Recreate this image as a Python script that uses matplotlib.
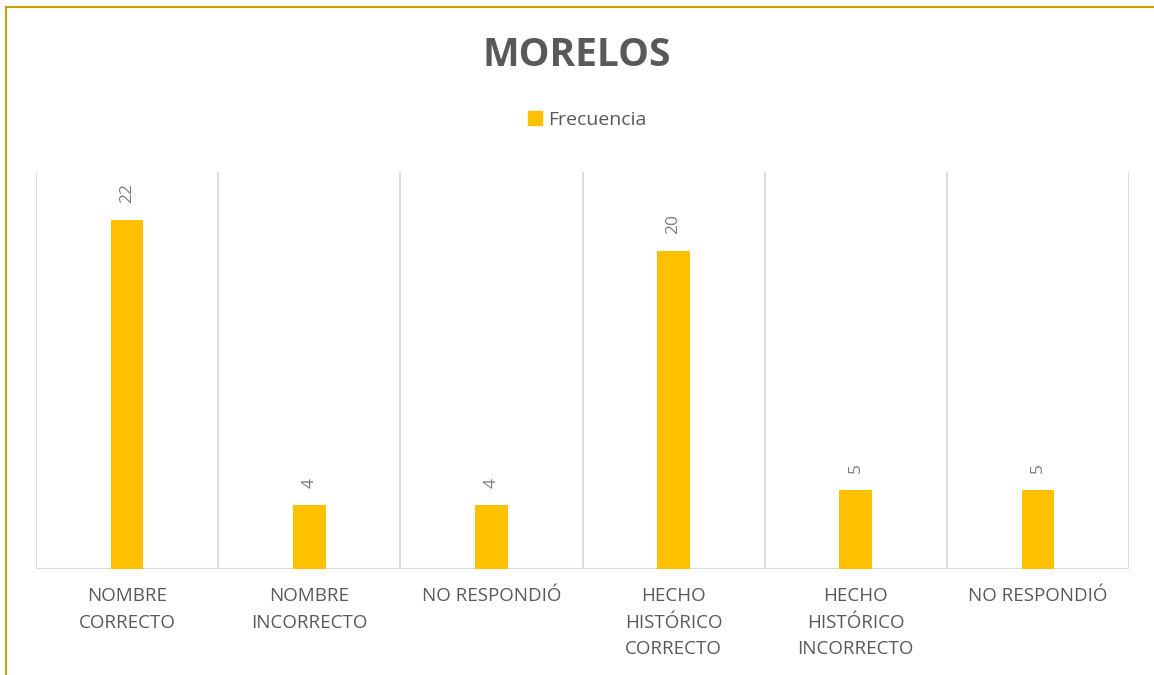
import matplotlib
matplotlib.use("Agg")
import matplotlib.pyplot as plt
from matplotlib.patches import Rectangle, Patch

categories = ["NOMBRE\nCORRECTO", "NOMBRE\nINCORRECTO", "NO RESPONDIÓ",
              "HECHO\nHISTÓRICO\nCORRECTO", "HECHO\nHISTÓRICO\nINCORRECTO", "NO RESPONDIÓ"]
frecuencia = [22, 4, 4, 20, 5, 5]
series_name = "Frecuencia"
title = "MORELOS"

BAR = "#FFC000"
GRID = "#D9D9D9"
TXT = "#595959"

plt.rcParams['font.family'] = ['Open Sans', 'DejaVu Sans']

fig = plt.figure(figsize=(11.54, 6.75), dpi=100)
ax = fig.add_axes([36/1154, 1-569/675, (1129-36)/1154, (569-172)/675])

x = list(range(len(categories)))
ax.bar(x, frecuencia, width=0.18, color=BAR, zorder=3)
ax.set_xlim(-0.5, len(categories)-0.5)
ax.set_ylim(0, 25)

for i, v in enumerate(frecuencia):
    ax.annotate(str(v), (i, v), xytext=(0, 17), textcoords="offset pixels",
                rotation=90, ha="center", va="bottom", fontsize=12.5, color="#7F7F7F")

# vertical gridlines at category boundaries
for b in [i - 0.5 for i in range(len(categories)+1)]:
    ax.axvline(b, color=GRID, lw=1.3, zorder=1)
ax.axhline(0, color=GRID, lw=1.5, zorder=2)

for s in ax.spines.values():
    s.set_visible(False)
ax.set_yticks([])
ax.set_xticks(x)
ax.set_xticklabels(categories, fontsize=13.5, color=TXT, linespacing=1.62)
ax.tick_params(axis="x", length=0, pad=13)

fig.text(0.5, 1-55/675, title, ha="center", va="center", fontsize=28,
         fontweight="bold", color=TXT)
fig.legend(handles=[Patch(color=BAR, label=series_name)], loc="center",
           bbox_to_anchor=(587/1154, 1-120/675), frameon=False, fontsize=14,
           handlelength=0.75, handleheight=0.75, handletextpad=0.3, labelcolor=TXT)

# outer border (only top and left visible in the reference crop)
fig.patches.append(Rectangle((5.5/1154, -0.1), 1.2, 1.1 - 6.5/675,
                             transform=fig.transFigure, fill=False,
                             edgecolor="#C9A000", lw=1.5))

fig.savefig("out.png", dpi=100)
